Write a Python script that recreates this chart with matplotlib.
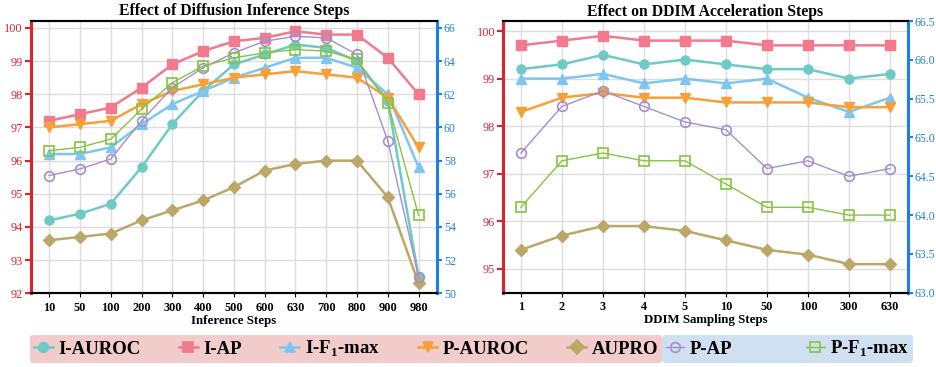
import matplotlib
matplotlib.use("Agg")
import matplotlib.pyplot as plt
from matplotlib.lines import Line2D

plt.rcParams["font.family"] = ["Liberation Serif", "DejaVu Serif"]
plt.rcParams["mathtext.fontset"] = "custom"
plt.rcParams["mathtext.rm"] = "Liberation Serif"
plt.rcParams["mathtext.bf"] = "Liberation Serif:bold"

# ---- data: left panel (diffusion inference steps) ----
inf_steps = ["10", "50", "100", "200", "300", "400", "500", "600", "630", "700", "800", "900", "980"]
inf_i_auroc = [94.2, 94.4, 94.7, 95.8, 97.1, 98.1, 98.9, 99.2, 99.5, 99.4, 99.0, 97.8, 92.5]
inf_i_ap = [97.2, 97.4, 97.6, 98.2, 98.9, 99.3, 99.6, 99.7, 99.9, 99.8, 99.8, 99.1, 98.0]
inf_i_f1 = [96.2, 96.2, 96.4, 97.1, 97.7, 98.1, 98.5, 98.8, 99.1, 99.1, 98.8, 98.0, 95.8]
inf_p_auroc = [97.0, 97.1, 97.2, 97.7, 98.1, 98.3, 98.5, 98.6, 98.7, 98.6, 98.5, 97.9, 96.4]
inf_aupro = [93.6, 93.7, 93.8, 94.2, 94.5, 94.8, 95.2, 95.7, 95.9, 96.0, 96.0, 94.9, 92.3]
# right axis
inf_p_ap = [57.1, 57.5, 58.1, 60.4, 62.4, 63.6, 64.5, 65.2, 65.5, 65.4, 64.4, 59.2, 51.0]
inf_p_f1 = [58.6, 58.8, 59.3, 61.1, 62.7, 63.7, 64.2, 64.5, 64.7, 64.6, 64.1, 61.5, 54.7]

# ---- data: right panel (DDIM sampling steps) ----
ddim_steps = ["1", "2", "3", "4", "5", "10", "50", "100", "300", "630"]
ddim_i_auroc = [99.2, 99.3, 99.5, 99.3, 99.4, 99.3, 99.2, 99.2, 99.0, 99.1]
ddim_i_ap = [99.7, 99.8, 99.9, 99.8, 99.8, 99.8, 99.7, 99.7, 99.7, 99.7]
ddim_i_f1 = [99.0, 99.0, 99.1, 98.9, 99.0, 98.9, 99.0, 98.6, 98.3, 98.6]
ddim_p_auroc = [98.3, 98.6, 98.7, 98.6, 98.6, 98.5, 98.5, 98.5, 98.4, 98.4]
ddim_aupro = [95.4, 95.7, 95.9, 95.9, 95.8, 95.6, 95.4, 95.3, 95.1, 95.1]
# right axis
ddim_p_ap = [64.8, 65.4, 65.6, 65.4, 65.2, 65.1, 64.6, 64.7, 64.5, 64.6]
ddim_p_f1 = [64.1, 64.7, 64.8, 64.7, 64.7, 64.4, 64.1, 64.1, 64.0, 64.0]

labels = ["I-AUROC", "I-AP", r"I-F$_{\mathbf{1}}$-max", "P-AUROC", "AUPRO", "P-AP", r"P-F$_{\mathbf{1}}$-max"]
colors = ["#6FCAC6", "#F27A8E", "#7EC6F0", "#F5A038", "#BBA768", "#A58FCB", "#86C440"]
markers = ["o", "s", "^", "v", "D", "o", "s"]
hollow = [False, False, False, False, False, True, True]

RED = "#D8262E"
BLUE = "#1F7FE0"


def draw_panel(ax, xlabels, left_series, right_series, title, xlabel,
               ylim_l, yticks_l, ylim_r, yticks_r, rfmt, xpad):
    x = list(range(len(xlabels)))
    ax2 = ax.twinx()
    for i, ys in enumerate(left_series):
        ax.plot(x, ys, color=colors[i], marker=markers[i], lw=1.8,
                ms=6.5 if markers[i] != "D" else 6, zorder=3)
    for j, ys in enumerate(right_series):
        i = 5 + j
        ax2.plot(x, ys, color=colors[i], marker=markers[i], lw=1.0, ms=7,
                 markerfacecolor="none", markeredgewidth=1.2, zorder=3)

    ax.set_xlim(-xpad, len(xlabels) - 1 + xpad)
    ax.set_xticks(x)
    ax.set_xticklabels(xlabels, fontweight="bold", fontsize=8.8)
    ax.set_xlabel(xlabel, fontweight="bold", fontsize=9.3, labelpad=1)
    ax.set_title(title, fontweight="bold", fontsize=11.3, pad=4)

    ax.set_ylim(*ylim_l)
    ax.set_yticks(yticks_l)
    ax.tick_params(axis="y", colors=RED, labelsize=8.8, width=1.5, length=4, pad=2)
    ax.tick_params(axis="x", length=3, pad=3)
    ax.grid(True, color="#DDDDDD", lw=1.0, zorder=0)

    ax2.set_ylim(*ylim_r)
    ax2.set_yticks(yticks_r)
    ax2.set_yticklabels([rfmt % v for v in yticks_r])
    ax2.tick_params(axis="y", colors=BLUE, labelsize=8.5, width=1.5, length=3.5, pad=1.5)

    for a in (ax, ax2):
        a.spines["left"].set_color(RED)
        a.spines["left"].set_linewidth(2.2)
        a.spines["right"].set_color(BLUE)
        a.spines["right"].set_linewidth(2.2)
        a.spines["top"].set_linewidth(1.5)
        a.spines["bottom"].set_linewidth(1.5)
    return ax2


fig = plt.figure(figsize=(9.37, 3.67), dpi=100)
ax_l = fig.add_axes([0.0328, 0.2008, 0.4336, 0.742])
ax_r = fig.add_axes([0.5371, 0.2025, 0.4315, 0.740])

draw_panel(ax_l, inf_steps,
           [inf_i_auroc, inf_i_ap, inf_i_f1, inf_p_auroc, inf_aupro],
           [inf_p_ap, inf_p_f1],
           "Effect of Diffusion Inference Steps", "Inference Steps",
           (92, 100.21), list(range(92, 101)), (50, 66.42), list(range(50, 67, 2)), "%d", 0.6)

draw_panel(ax_r, ddim_steps,
           [ddim_i_auroc, ddim_i_ap, ddim_i_f1, ddim_p_auroc, ddim_aupro],
           [ddim_p_ap, ddim_p_f1],
           "Effect on DDIM Acceleration Steps", "DDIM Sampling Steps",
           (94.5, 100.21), list(range(95, 101)), (63.0, 66.5),
           [63.0, 63.5, 64.0, 64.5, 65.0, 65.5, 66.0, 66.5], "%.1f", 0.43)

# legend: two shaded groups
handles = []
for i in range(7):
    handles.append(Line2D([0], [0], color=colors[i], marker=markers[i],
                          lw=1.8 if not hollow[i] else 1.0, ms=7,
                          markerfacecolor="none" if hollow[i] else colors[i],
                          markeredgewidth=1.2))

leg1 = fig.legend(handles[:5], labels[:5], loc="lower left",
                  bbox_to_anchor=(30 / 937, 4 / 367, 632 / 937, 27 / 367),
                  mode="expand", ncol=5, frameon=True, fancybox=True,
                  facecolor="#F2CBCB", edgecolor="none", framealpha=1,
                  prop={"weight": "bold", "size": 13.5}, handlelength=1.0,
                  handletextpad=0.3, borderpad=0.2, borderaxespad=0)
fig.add_artist(leg1)
leg2 = fig.legend(handles[5:], labels[5:], loc="lower left",
                  bbox_to_anchor=(662 / 937, 4 / 367, 251 / 937, 27 / 367),
                  mode="expand", ncol=2, frameon=True, fancybox=True,
                  facecolor="#CFE0F0", edgecolor="none", framealpha=1,
                  prop={"weight": "bold", "size": 13.5}, handlelength=1.0,
                  handletextpad=0.3, borderpad=0.2, borderaxespad=0)

fig.savefig("out.png", dpi=100)
